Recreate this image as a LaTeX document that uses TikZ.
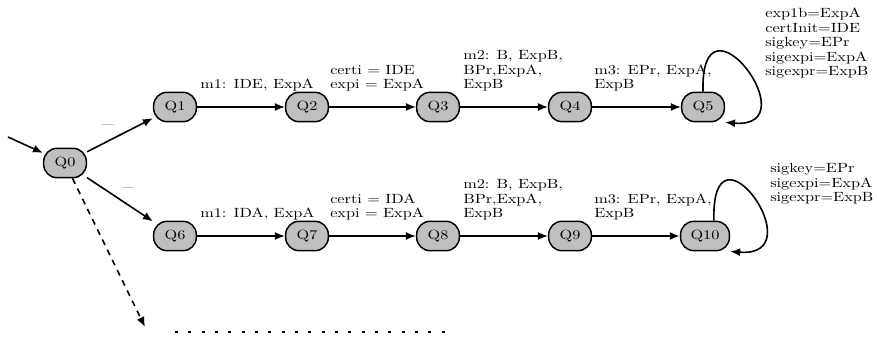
\documentclass[tikz,border=0pt]{standalone}
\usepackage{graphicx}
\usetikzlibrary{arrows.meta}
\newcommand{\wx}[1]{\scalebox{1.22}[1]{#1}}
\newcommand{\lbllines}[1]{\wx{\begin{tabular}[b]{@{}l@{}}#1\end{tabular}}}
\begin{document}
\begin{tikzpicture}[x=0.75pt,y=-0.75pt,
  state/.style={draw, line width=1.1pt, fill=black!25, rounded corners=10pt,
    minimum width=32pt, minimum height=22pt, inner ysep=0pt, inner xsep=7.5pt,
    font=\fontsize{10}{10.9}\selectfont},
  lbl/.style={inner sep=0pt, anchor=base west, font=\fontsize{10}{10.9}\selectfont},
  edge/.style={line width=1.2pt, -{Latex[length=7.5pt,width=6pt]}},
  uscore/.style={font=\fontsize{10}{10.9}\selectfont, inner sep=0pt, text=black!60}
]
\useasboundingbox (0,0) rectangle (877,338);

% states
\node[state] (Q0) at (65,163) {\wx{Q0}};
\node[state] (Q1) at (175,107) {\wx{Q1}};
\node[state] (Q2) at (307,107) {\wx{Q2}};
\node[state] (Q3) at (438,107) {\wx{Q3}};
\node[state] (Q4) at (570,107) {\wx{Q4}};
\node[state] (Q5) at (703,107) {\wx{Q5}};
\node[state] (Q6) at (175,236) {\wx{Q6}};
\node[state] (Q7) at (307,236) {\wx{Q7}};
\node[state] (Q8) at (438,236) {\wx{Q8}};
\node[state] (Q9) at (570,236) {\wx{Q9}};
\node[state] (Q10) at (705,236) {\wx{Q10}};

% initial and branch edges
\coordinate (start) at (8,137);
\draw[edge] (start) -- (Q0);
\draw[edge] (Q0) -- (Q1);
\draw[edge] (Q0) -- (Q6);
\node[uscore] (u1) at (108,124) {\wx{\_}};
\node[uscore] (u2) at (128,187) {\wx{\_}};

\coordinate (dend) at (145,327);
\draw[edge, dash pattern=on 4.5pt off 4pt] (Q0) -- (dend);
\coordinate (d1) at (175,332);
\coordinate (d2) at (446,332);
\draw[line width=2.2pt, dash pattern=on 2.2pt off 7.8pt] (d1) -- (d2);

% top row
\draw[edge] (Q1) -- (Q2);
\draw[edge] (Q2) -- (Q3);
\draw[edge] (Q3) -- (Q4);
\draw[edge] (Q4) -- (Q5);
\draw[edge] (Q5.north) .. controls +(-3,-110) and +(86,7) .. (Q5.south east);

% bottom row
\draw[edge] (Q6) -- (Q7);
\draw[edge] (Q7) -- (Q8);
\draw[edge] (Q8) -- (Q9);
\draw[edge] (Q9) -- (Q10);
\draw[edge] (Q10.60) .. controls +(-3,-110) and +(86,7) .. (Q10.south east);

% labels top
\node[lbl] (l1) at (200,89) {\lbllines{m1: IDE, ExpA}};
\node[lbl] (l2) at (330,89) {\lbllines{certi = IDE\\expi = ExpA}};
\node[lbl] (l3) at (463,89) {\lbllines{m2: B, ExpB,\\BPr,ExpA,\\ExpB}};
\node[lbl] (l4) at (594,89) {\lbllines{m3: EPr, ExpA,\\ExpB}};
\node[lbl] (l5) at (765,76) {\lbllines{exp1b=ExpA\\certInit=IDE\\sigkey=EPr\\sigexpi=ExpA\\sigexpr=ExpB}};

% labels bottom
\node[lbl] (b1) at (200,218) {\lbllines{m1: IDA, ExpA}};
\node[lbl] (b2) at (330,218) {\lbllines{certi = IDA\\expi = ExpA}};
\node[lbl] (b3) at (463,218) {\lbllines{m2: B, ExpB,\\BPr,ExpA,\\ExpB}};
\node[lbl] (b4) at (594,218) {\lbllines{m3: EPr, ExpA,\\ExpB}};
\node[lbl] (b5) at (770,202) {\lbllines{sigkey=EPr\\sigexpi=ExpA\\sigexpr=ExpB}};
\end{tikzpicture}
\end{document}
